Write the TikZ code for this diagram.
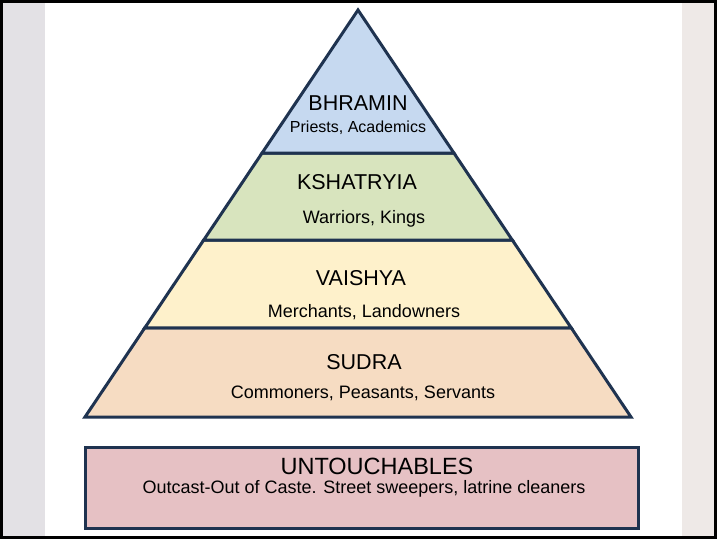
\documentclass[tikz,border=0pt]{standalone}
\usepackage{fontspec}
\setmainfont{Liberation Sans}
\usetikzlibrary{calc}
\definecolor{outl}{HTML}{1F3350}
\definecolor{cblue}{HTML}{C6D9F0}
\definecolor{cgreen}{HTML}{D8E4BE}
\definecolor{cyellow}{HTML}{FEF1CB}
\definecolor{cpeach}{HTML}{F6DCC2}
\definecolor{cpink}{HTML}{E6C1C4}
\definecolor{stripL}{HTML}{E3E1E5}
\definecolor{stripR}{HTML}{EEE9E7}
\tikzset{
  tier/.style={draw=outl, line width=3pt, line join=miter},
  ttl/.style={anchor=base, inner sep=0pt, font=\fontsize{21.5}{24}\selectfont},
  sub/.style={anchor=base, inner sep=0pt, font=\fontsize{18}{20}\selectfont},
}
\begin{document}
\begin{tikzpicture}[x=1pt,y=-1pt]
\useasboundingbox (0,0) rectangle (717,539);
\fill[white] (0,0) rectangle (717,539);
\fill[stripL] (3,3) rectangle (45,536);
\fill[stripR] (682,3) rectangle (714,536);
\draw[black, line width=3pt] (1.5,1.5) rectangle (715.5,537.5);
% pyramid
\coordinate (apex) at (358,10);
\coordinate (bl) at (85,417);
\coordinate (br) at (631,417);
\coordinate (l1) at ($(apex)!0.3514!(bl)$);
\coordinate (r1) at ($(apex)!0.3514!(br)$);
\coordinate (l2) at ($(apex)!0.5651!(bl)$);
\coordinate (r2) at ($(apex)!0.5651!(br)$);
\coordinate (l3) at ($(apex)!0.7813!(bl)$);
\coordinate (r3) at ($(apex)!0.7813!(br)$);
\filldraw[tier, fill=cpeach] (l3) -- (r3) -- (br) -- (bl) -- cycle;
\filldraw[tier, fill=cyellow] (l2) -- (r2) -- (r3) -- (l3) -- cycle;
\filldraw[tier, fill=cgreen] (l1) -- (r1) -- (r2) -- (l2) -- cycle;
\filldraw[tier, fill=cblue] (apex) -- (r1) -- (l1) -- cycle;
% texts
\node[ttl] (t1) at (358,110) {BHRAMIN};
\node[sub, font=\fontsize{16}{18}\selectfont] (s1) at (358,132) {Priests, Academics};
\node[ttl] (t2) at (357,189) {KSHATRYIA};
\node[sub] (s2) at (364,223) {Warriors, Kings};
\node[ttl] (t3) at (361,285) {VAISHYA};
\node[sub] (s3) at (364,317) {Merchants, Landowners};
\node[ttl] (t4) at (364,369) {SUDRA};
\node[sub] (s4) at (363,398) {Commoners, Peasants, Servants};
% untouchables
\filldraw[tier, fill=cpink] (85,447) rectangle (638,528);
\node[ttl, font=\fontsize{23.5}{26}\selectfont] (t5) at (377,474) {UNTOUCHABLES};
\node[sub] (s5) at (364,493) {Outcast-Out of Caste. Street sweepers, latrine cleaners};
\end{tikzpicture}
\end{document}
